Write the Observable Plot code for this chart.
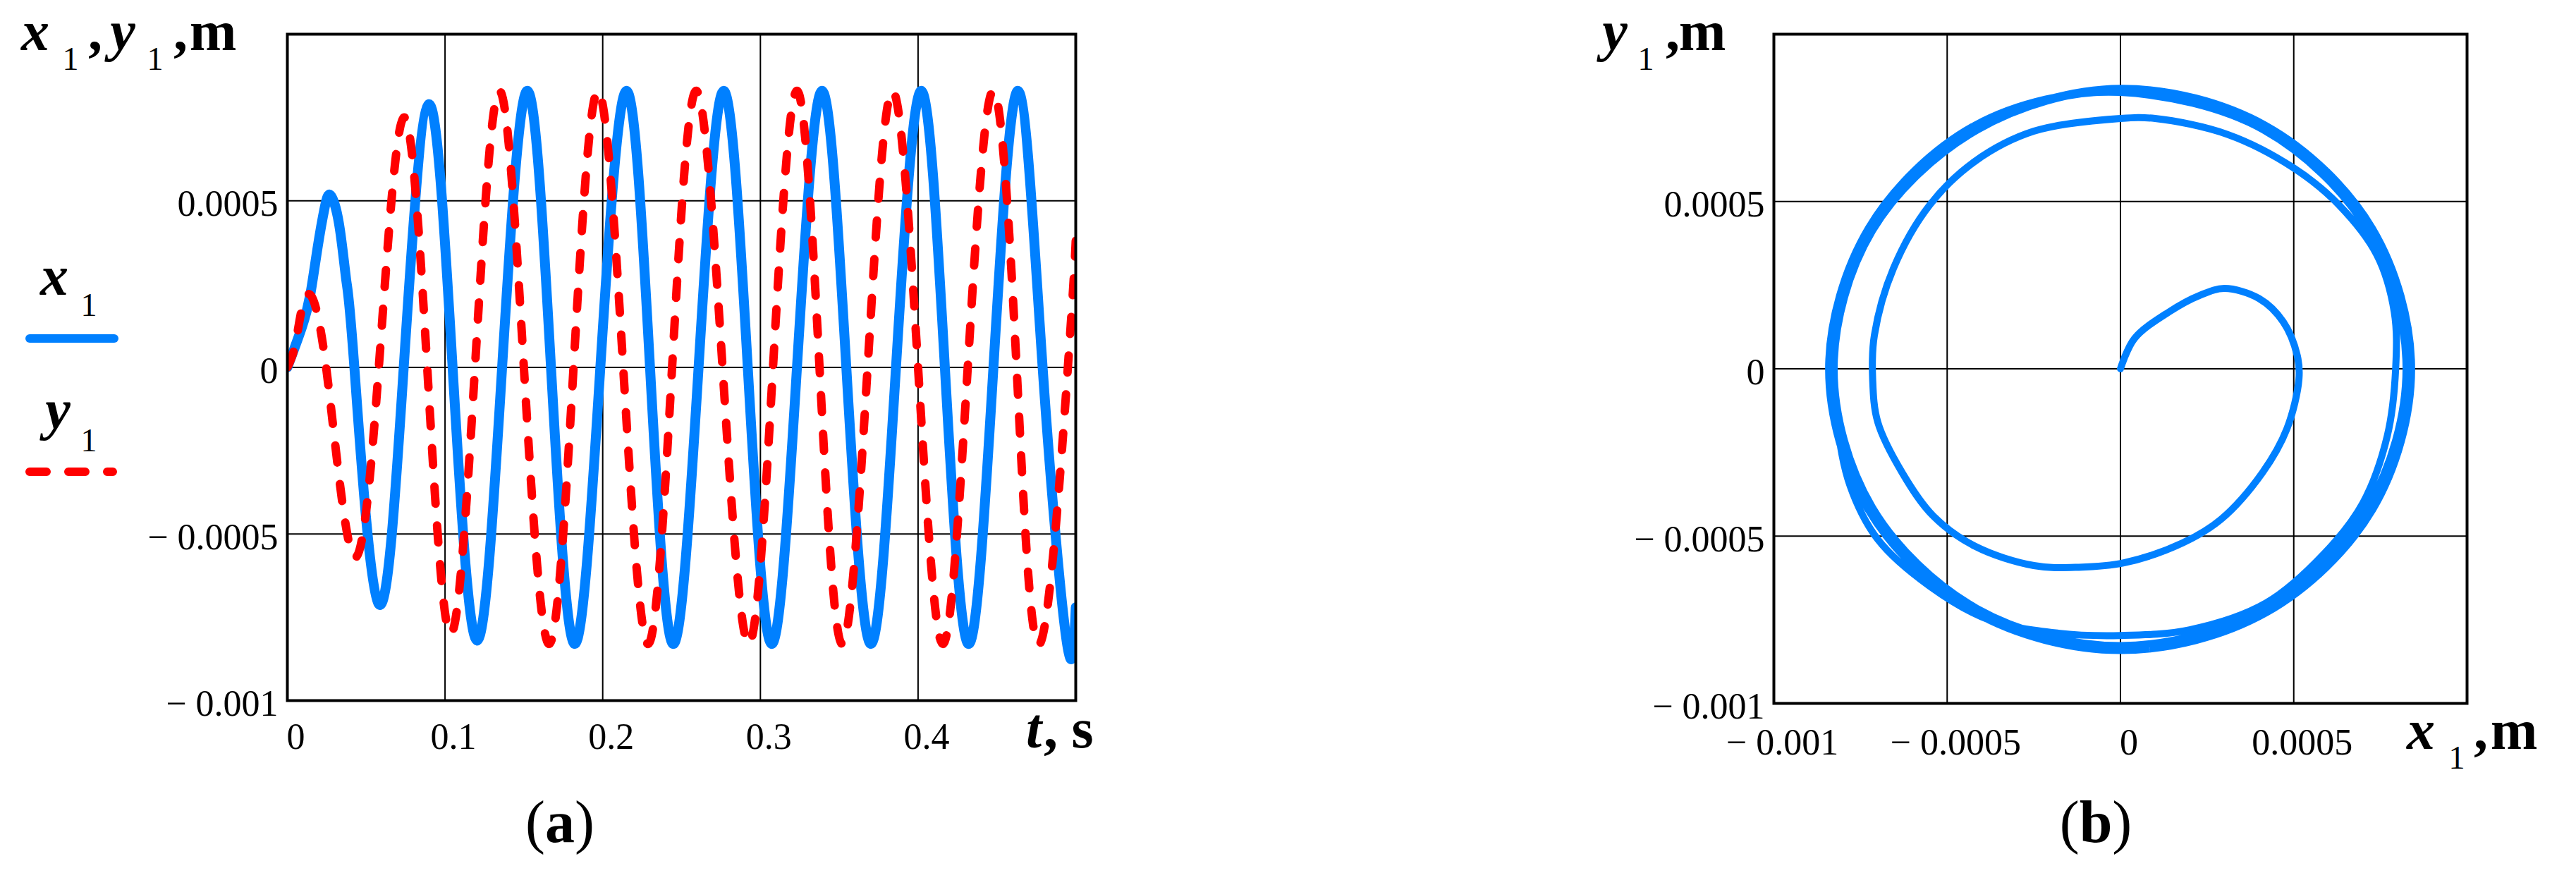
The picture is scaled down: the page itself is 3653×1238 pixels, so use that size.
<!DOCTYPE html>
<html><head><meta charset="utf-8">
<script src="https://cdn.jsdelivr.net/npm/d3@7"></script>
<script src="https://cdn.jsdelivr.net/npm/@observablehq/plot@0.6"></script>
<style>
body{margin:0;background:#fff}
#root{position:relative;width:3653px;height:1238px;background:#fff;overflow:hidden}
.panel{position:absolute;top:0}
</style></head><body>
<div id="root"><div id="pa" class="panel" style="left:0;width:1600px"></div><div id="pb" class="panel" style="left:2000px;width:1653px"></div></div>
<script>
// ---------- Data: panel (a) time series ----------
const tX = [0, 0.0092, 0.0146, 0.0192, 0.0237, 0.0273, 0.0328, 0.0374, 0.0425, 0.0579, 0.0738, 0.0898, 0.1048, 0.1203, 0.1362, 0.1522, 0.1672, 0.1823, 0.1985, 0.2151, 0.2300, 0.2448, 0.2608, 0.2767, 0.2920, 0.3072, 0.3232, 0.3391, 0.3545, 0.3701, 0.3860, 0.4020, 0.4170, 0.4321, 0.4478, 0.4635, 0.4790, 0.4945, 0.5];
const x1 = [0, 0.00012, 0.00022, 0.00036, 0.00048, 0.000517, 0.00043, 0.00026, 0, -0.00071, 0, 0.00079, 0, -0.00082, 0, 0.00083, 0, -0.00083, 0, 0.00083, 0, -0.00083, 0, 0.00083, 0, -0.00083, 0, 0.00083, 0, -0.00083, 0, 0.00083, 0, -0.00083, 0, 0.00083, 0, -0.00083, -0.00072];
const tY = [0, 0.0055, 0.0123, 0.0246, 0.0420, 0.0580, 0.0738, 0.0887, 0.1035, 0.1190, 0.1345, 0.1500, 0.1660, 0.1815, 0.1970, 0.2130, 0.2288, 0.2440, 0.2593, 0.2760, 0.2926, 0.3080, 0.3232, 0.3375, 0.3519, 0.3680, 0.3838, 0.4000, 0.4157, 0.4315, 0.4476, 0.4625, 0.4772, 0.4950, 0.5];
const y1 = [0, 0.00008, 0.000217, 0, -0.000567, 0, 0.00075, 0, -0.0008, 0, 0.00083, 0, -0.00083, 0, 0.00083, 0, -0.00083, 0, 0.00083, 0, -0.00083, 0, 0.00083, 0, -0.00083, 0, 0.00083, 0, -0.00083, 0, 0.00083, 0, -0.00083, 0, 0.00038];

// ---------- Data: panel (b) phase trajectory (x1, y1), read point by point ----------
const bx = [
  0, 0.00004, 0.00014, 0.00023, 0.0003, 0.0004, 0.00047, 0.00051, 0.000515, 0.00048, 0.00041, 0.00029, 0.00018, 0.00001, -0.00012, -0.00025, -0.00042, -0.00054, -0.00063, -0.0007, -0.000715, -0.00071, -0.000655, -0.00055, -0.00042, -0.00025, 0,
  0.0001, 0.00031, 0.0005, 0.00063, 0.00074, 0.00079, 0.000794, 0.00077, 0.0007, 0.00059, 0.00042, 0.0002, 0, -0.00018, -0.00038, -0.00055, -0.0007, -0.00078, -0.000818, -0.000828, -0.00082, -0.00074, -0.00065, -0.0005, -0.00029, 0,
  0.000412, 0.000714, 0.000824, 0.000713, 0.000413, 0, -0.000414, -0.000716, -0.000826, -0.000715, -0.000412, 0,
  0.000418, 0.000724, 0.000836, 0.000725, 0.000419, 0, -0.00042, -0.000726, -0.000838, -0.000724, -0.000417, 0,
  0.000414, 0.000717, 0.000828, 0.000716, 0.000415, 0, -0.000413, -0.000718, -0.00083, -0.000717, -0.000414, 0,
  0.00042, 0.000727, 0.00084, 0.000728, 0.000421, 0, -0.000422, -0.000729, -0.000842, -0.000727, -0.00042, 0,
  0.000416, 0.00072, 0.000832, 0.000721, 0.000417, 0, -0.000416, -0.000721, -0.000833, -0.00072, -0.000415, 0,
  0.000417, 0.000722, 0.000834, 0.000723, 0.000418, 0, -0.000418, -0.000723, -0.000835, -0.000806, -0.000725];
const by = [
  0, 0.00009, 0.00017, 0.00022, 0.00024, 0.00021, 0.00014, 0.00004, -0.00003, -0.00018, -0.00031, -0.00045, -0.00052, -0.00058, -0.000593, -0.000588, -0.00053, -0.00044, -0.00031, -0.00016, -0.00003, 0.0001, 0.0003, 0.00049, 0.00062, 0.00071, 0.000748,
  0.000748, 0.0007, 0.0006, 0.00049, 0.00034, 0.00017, 0, -0.0002, -0.0004, -0.00055, -0.0007, -0.00078, -0.000797, -0.00079, -0.00075, -0.00065, -0.00051, -0.00035, -0.00016, 0, 0.00017, 0.00038, 0.00052, 0.00066, 0.00078, 0.000826,
  0.000714, 0.000412, 0, -0.000413, -0.000715, -0.000827, -0.000716, -0.000413, 0, 0.000413, 0.000714, 0.000834,
  0.000725, 0.000418, 0, -0.00042, -0.000726, -0.00084, -0.000727, -0.00042, 0, 0.000419, 0.000724, 0.000829,
  0.000718, 0.000414, 0, -0.000415, -0.000717, -0.000829, -0.000718, -0.000414, 0, 0.000415, 0.000719, 0.000838,
  0.000727, 0.00042, 0, -0.000421, -0.000729, -0.000842, -0.000728, -0.00042, 0, 0.000421, 0.000728, 0.000831,
  0.00072, 0.000416, 0, -0.000417, -0.000721, -0.000833, -0.00072, -0.000416, 0, 0.000416, 0.00072, 0.000836,
  0.000723, 0.000417, 0, -0.000418, -0.000723, -0.000836, -0.000723, -0.000418, 0, 0.000216, 0.000415];

// ---------- Ticks ----------
const tGrid = [0.1, 0.2, 0.3, 0.4];
const tLabels = [0, 0.1, 0.2, 0.3, 0.4];
const mGrid = [-0.0005, 0, 0.0005];
const mLabels = [-0.001, -0.0005, 0, 0.0005];

const BLUE = "#0080ff", RED = "#ff0000";
const FONT = "'Liberation Serif', 'Times New Roman', serif";
const fmt = d => d === 0 ? "0" : d < 0 ? "\u2212 " + String(-d) : String(d);

const seriesX = tX.map((t, i) => ({t, v: x1[i]}));
const seriesY = tY.map((t, i) => ({t, v: y1[i]}));
const orbit = bx.map((x, i) => ({x, y: by[i]}));

const gridStyle = {stroke: "#000", strokeOpacity: 1, strokeWidth: 2};
const axisStyle = {tickSize: 0, fontSize: 52, label: null, tickFormat: fmt};

const plotA = Plot.plot({
  width: 1600, height: 1238,
  marginLeft: 407, marginRight: 75, marginTop: 48, marginBottom: 245,
  x: {domain: [0, 0.5]},
  y: {domain: [-0.001, 0.001]},
  style: {fontFamily: FONT, fontSize: "52px", color: "#000", background: "#fff"},
  marks: [
    Plot.gridX(tGrid, gridStyle),
    Plot.gridY(mGrid, gridStyle),
    Plot.line(seriesX, {x: "t", y: "v", stroke: BLUE, strokeWidth: 14, curve: "natural", clip: true}),
    Plot.line(seriesY, {x: "t", y: "v", stroke: RED, strokeWidth: 12, strokeDasharray: "24,31", strokeLinecap: "round", curve: "natural", clip: true}),
    Plot.frame({stroke: "#000", strokeWidth: 4}),
    Plot.axisX(tLabels, {...axisStyle, tickPadding: 32, dx: 12}),
    Plot.axisY(mLabels, {...axisStyle, tickPadding: 13, dy: 5})
  ]
});

const plotB = Plot.plot({
  width: 1653, height: 1238,
  marginLeft: 515, marginRight: 155, marginTop: 48, marginBottom: 241,
  x: {domain: [-0.001, 0.001]},
  y: {domain: [-0.001, 0.001]},
  style: {fontFamily: FONT, fontSize: "52px", color: "#000", background: "#fff"},
  marks: [
    Plot.gridX(mGrid, gridStyle),
    Plot.gridY(mGrid, gridStyle),
    Plot.line(orbit, {x: "x", y: "y", stroke: BLUE, strokeWidth: 10, curve: "catmull-rom", clip: true}),
    Plot.frame({stroke: "#000", strokeWidth: 4}),
    Plot.axisX(mLabels, {...axisStyle, tickPadding: 36, dx: 12}),
    Plot.axisY(mLabels, {...axisStyle, tickPadding: 13, dy: 5})
  ]
});

document.getElementById("pa").appendChild(plotA);
document.getElementById("pb").appendChild(plotB);

// ---------- Rich text labels (subscripts, bold italic) ----------
function rich(svg, pieces, anchor, ax, ay) {
  const t = d3.select(svg).append("text").attr("font-family", FONT).attr("fill", "#000");
  if (anchor) t.attr("text-anchor", anchor).attr("x", ax).attr("y", ay);
  for (const p of pieces) {
    const ts = t.append("tspan").text(p.s)
      .attr("font-size", p.size)
      .attr("font-style", p.it ? "italic" : "normal")
      .attr("font-weight", p.b ? "bold" : "normal");
    if (p.x != null) ts.attr("x", p.x);
    if (p.y != null) ts.attr("y", p.y);
  }
  return t;
}
const S = 80, SUB = 46;
// Panel (a) y-axis label
rich(plotA, [
  {s: "x", x: 50, y: 71, size: S, it: 1, b: 1},
  {s: "1", x: 100, y: 99, size: SUB},
  {s: ",", x: 135, y: 71, size: S, b: 1},
  {s: "y", x: 174, y: 71, size: S, it: 1, b: 1},
  {s: "1", x: 220, y: 99, size: SUB},
  {s: ",", x: 256, y: 71, size: S, b: 1},
  {s: "m", x: 302, y: 71, size: S, b: 1}
]);
// Panel (a) x-axis label
rich(plotA, [
  {s: "t", x: 1466, y: 1060, size: S, it: 1, b: 1},
  {s: ",", x: 1490, y: 1060, size: S, b: 1},
  {s: "s", x: 1535, y: 1060, size: S, b: 1}
]);
// Legend
rich(plotA, [
  {s: "x", x: 77, y: 418, size: S, it: 1, b: 1},
  {s: "1", x: 126, y: 448, size: SUB}
]);
rich(plotA, [
  {s: "y", x: 82, y: 608, size: S, it: 1, b: 1},
  {s: "1", x: 126, y: 640, size: SUB}
]);
const lg = d3.select(plotA).append("g");
lg.append("line").attr("x1", 42).attr("x2", 162).attr("y1", 480).attr("y2", 480)
  .attr("stroke", BLUE).attr("stroke-width", 12).attr("stroke-linecap", "round");
lg.append("line").attr("x1", 42).attr("x2", 160).attr("y1", 669).attr("y2", 669)
  .attr("stroke", RED).attr("stroke-width", 12).attr("stroke-linecap", "round").attr("stroke-dasharray", "24,31");
// Caption (a)
rich(plotA, [
  {s: "(", size: 84}, {s: "a", size: 84, b: 1}, {s: ")", size: 84}
], "middle", 794, 1194);

// Panel (b) labels
rich(plotB, [
  {s: "y", x: 290, y: 71, size: S, it: 1, b: 1},
  {s: "1", x: 334, y: 99, size: SUB},
  {s: ",", x: 372, y: 71, size: S, b: 1},
  {s: "m", x: 414, y: 71, size: S, b: 1}
]);
rich(plotB, [
  {s: "x", x: 1433, y: 1062, size: S, it: 1, b: 1},
  {s: "1", x: 1484, y: 1090, size: SUB},
  {s: ",", x: 1518, y: 1062, size: S, b: 1},
  {s: "m", x: 1565, y: 1062, size: S, b: 1}
]);
rich(plotB, [
  {s: "(", size: 84}, {s: "b", size: 84, b: 1}, {s: ")", size: 84}
], "middle", 972, 1194);
</script>
</body></html>
